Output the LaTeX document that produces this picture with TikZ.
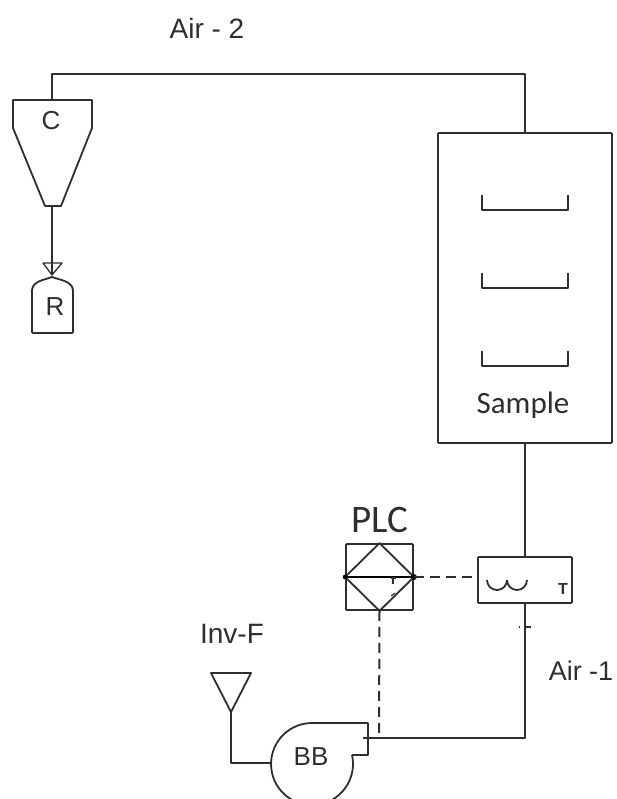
\documentclass[tikz,border=0pt]{standalone}
\usepackage{fontspec}
\setmainfont{Liberation Sans}
\newfontfamily\calfont{Carlito}
\definecolor{ink}{HTML}{2E2E2E}
\begin{document}
\begin{tikzpicture}[
    x=1pt, y=-1pt,
    line/.style={draw=ink, line width=1.8pt, line join=round},
    sig/.style={draw=ink, line width=2pt, dash pattern=on 10pt off 6pt},
    box/.style={draw=ink, line width=1.8pt, rounded corners=0.8pt, inner sep=0pt},
    lab/.style={inner sep=0pt, text=ink, font=\fontsize{28}{30}\selectfont},
    labc/.style={inner sep=0pt, text=ink, font=\calfont\fontsize{31}{34}\selectfont}
  ]
    \useasboundingbox (0,0) rectangle (616,799);
    \clip (0,0) rectangle (616,799);

    % Cajas principales
    \node[box, minimum width=174pt, minimum height=310pt] (sample) at (525,288) {};
    \node[box, minimum width=94pt, minimum height=46pt] (heater) at (525,580) {};
    \node[box, minimum width=67pt, minimum height=66pt] (plc) at (379.5,577) {};

    % Ciclon
    \coordinate (c1) at (13,100);
    \coordinate (c2) at (92,100);
    \coordinate (c3) at (92,128);
    \coordinate (c4) at (61,206);
    \coordinate (c5) at (45,206);
    \coordinate (c6) at (13,128);
    \coordinate (ctop) at (52,100);
    \coordinate (cbot) at (52,206);
    \coordinate (bend) at (525,74);
    \draw[line] (c1) -- (c2) -- (c3) -- (c4) -- (c5) -- (c6) -- cycle;

    % Recipiente
    \coordinate (rtop) at (52,277);
    \coordinate (tip) at (52,275);
    \draw[line, rounded corners=1pt] (32,290) -- (32,333) -- (73,333) -- (73,290);
    \draw[line] (32,290) .. controls (33,281) and (44,280) .. (rtop)
      .. controls (60,280) and (72,281) .. (73,290);
    \coordinate (v1) at (43,263);
    \coordinate (v2) at (62,263);
    \draw[line, line width=1.3pt] (v1) -- (v2) -- (tip) -- cycle;

    % Bandejas
    \foreach \y in {195,273,351} {
      \draw[line] (482,\y) -- (482,\y+15) -- (568,\y+15) -- (568,\y);
    }

    % Rombo
    \coordinate (dt) at (plc.north);
    \coordinate (db) at (plc.south);
    \coordinate (dl) at (plc.west);
    \coordinate (dr) at (plc.east);
    \draw[line] (dt) -- (dr) -- (db) -- (dl) -- cycle;
    \draw[draw=black, line width=2.4pt] (dl) -- (dr);
    \fill[black] (dl) circle (2.4pt) (dr) circle (3pt);
    \draw[line, line width=1.1pt] (391,578) -- (396,578) (393,578) -- (393,584);
    \draw[line, line width=1.1pt] (391,596) -- (395,593);

    % Calentador
    \draw[line] (487,580) arc[start angle=180, end angle=360, radius=10pt]
      (507,580) arc[start angle=180, end angle=360, radius=10pt];

    % Soplador
    \coordinate (outa) at (368,723);
    \coordinate (outb) at (368,755);
    \coordinate (air) at (363,738);
    \coordinate (sigb) at (379,738);
    \coordinate (inlet) at (272,763);
    \draw[line] (352,755) arc[start angle=12.7, end angle=-270, radius=41pt]
      -- (outa) -- (outb) -- (352,755);

    % Filtro
    \coordinate (f1) at (211,673);
    \coordinate (f2) at (251,673);
    \coordinate (ftip) at (231,712);
    \coordinate (fbend) at (231,763);
    \draw[line] (f1) -- (f2) -- (ftip) -- cycle;

    % Conexiones
    \draw[line] (ctop) -- (ctop |- bend) -- (bend) -- (sample.north);
    \draw[line] (cbot) -- (tip);
    \draw[line] (sample.south) -- (heater.north);
    \draw[line] (heater.south) |- (air);
    \draw[line, line width=1.3pt] (519,627) -- (520,627) (525,627) -- (531,627);
    \draw[line] (ftip) -- (fbend) -- (inlet);
    \draw[sig] (plc.east) -- (plc.east -| heater.west);
    \draw[sig] (plc.south) -- (sigb);

    % Textos
    \node[lab] (air2) at (207,28) {Air - 2};
    \node[lab, font=\fontsize{27}{30}\selectfont] (air1) at (581,671) {Air -1};
    \node[lab] (invf) at (232,634) {Inv-F};
    \node[lab, font=\fontsize{26}{28}\selectfont] (clab) at (51,121) {C};
    \node[lab, font=\fontsize{26}{28}\selectfont] (rlab) at (55,307) {R};
    \node[lab, font=\fontsize{26}{28}\selectfont] (bblab) at (311,757) {BB};
    \node[lab, font=\bfseries\fontsize{16}{18}\selectfont] (tlab) at (563,589) {T};
    \node[labc] (samplelab) at (523,405) {Sample};
    \node[labc, font=\calfont\fontsize{39}{42}\selectfont] (plclab) at (380,520) {PLC};
\end{tikzpicture}
\end{document}
